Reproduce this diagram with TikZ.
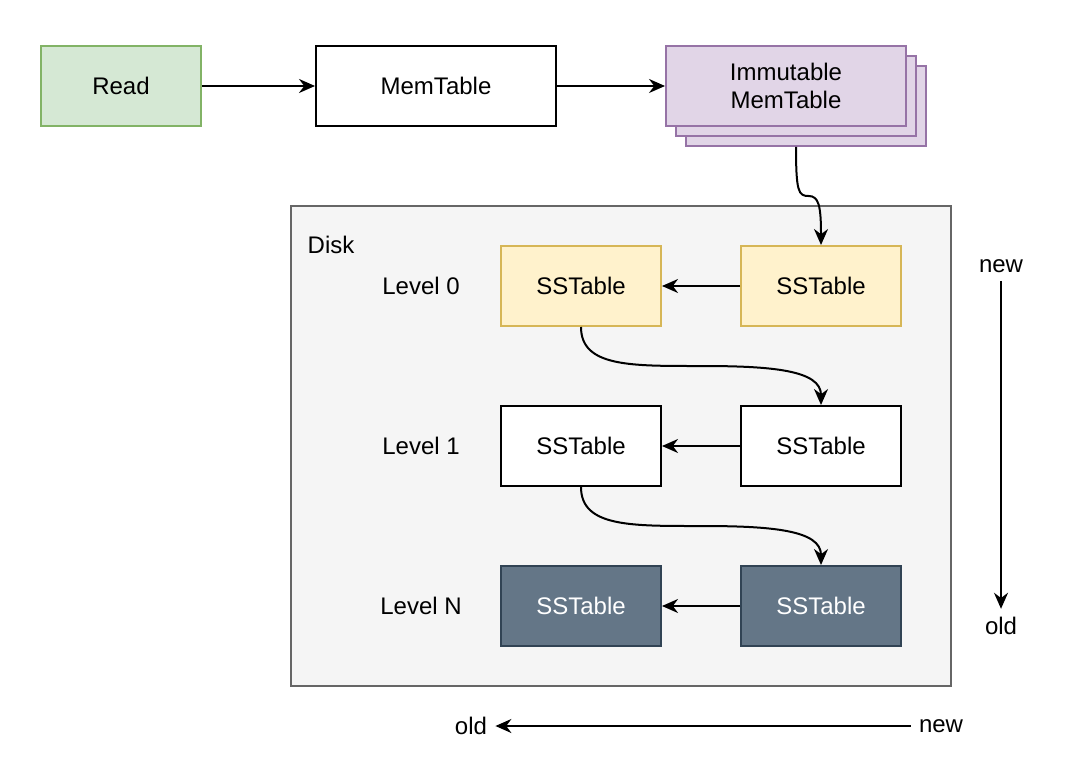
\documentclass[tikz,border=0pt]{standalone}
\usepackage{fontspec}
\setmainfont{Liberation Sans}
\usepackage{tikz}
\usetikzlibrary{arrows.meta,positioning,calc}
\definecolor{readGreen}{RGB}{213,232,212}
\definecolor{readGreenLine}{RGB}{130,179,102}
\definecolor{immPurple}{RGB}{225,213,231}
\definecolor{immPurpleLine}{RGB}{150,115,166}
\definecolor{diskGray}{RGB}{245,245,245}
\definecolor{diskGrayLine}{RGB}{102,102,102}
\definecolor{levelYellow}{RGB}{255,242,204}
\definecolor{levelYellowLine}{RGB}{214,182,86}
\definecolor{levelSlate}{RGB}{100,118,135}
\definecolor{levelSlateLine}{RGB}{49,67,84}

\tikzset{
  box/.style={draw, line width=1pt, minimum width=80pt, minimum height=40pt, inner sep=0pt, align=center},
  flow/.style={-{Stealth[length=8pt,width=7pt]}, line width=1pt},
  tag/.style={inner sep=4pt}
}

\begin{document}
\begin{tikzpicture}[x=0.5pt,y=-0.5pt,font=\fontsize{12}{14}\selectfont]
          \useasboundingbox (0,0) rectangle (1068,774);
          % Write path
          \node[box, fill=readGreen, draw=readGreenLine] (read) at (121,86) {Read};
          \node[box, minimum width=120pt, fill=white] (mem) at (436,86) {MemTable};
          \node[box, minimum width=120pt, fill=immPurple, draw=immPurpleLine] (imm3) at (806,106) {};
          \node[box, minimum width=120pt, fill=immPurple, draw=immPurpleLine] (imm2) at (796,96) {};
          \node[box, minimum width=120pt, fill=immPurple, draw=immPurpleLine] (imm) at (786,86) {Immutable\\MemTable};
          \draw[flow] (read) -- (mem);
          \draw[flow] (mem) -- (imm);
          % Disk
          \node[draw=diskGrayLine, fill=diskGray, line width=1pt, minimum width=330pt, minimum height=240pt] (disk) at (621,446) {};
          \node (disklbl) at (331,245) {Disk};
          % Levels
          \node (lv0) at (421,286) {Level 0};
          \node (lv1) at (421,446) {Level 1};
          \node (lvn) at (421,606) {Level N};
          \node[box, fill=levelYellow, draw=levelYellowLine] (l0) at (581,286) {SSTable};
          \node[box, fill=levelYellow, draw=levelYellowLine] (r0) at (821,286) {SSTable};
          \node[box, fill=white] (l1) at (581,446) {SSTable};
          \node[box, fill=white] (r1) at (821,446) {SSTable};
          \node[box, fill=levelSlate, draw=levelSlateLine, text=white] (ln) at (581,606) {SSTable};
          \node[box, fill=levelSlate, draw=levelSlateLine, text=white] (rn) at (821,606) {SSTable};
          \draw[flow] (r0) -- (l0);
          \draw[flow] (r1) -- (l1);
          \draw[flow] (rn) -- (ln);
          % Flush and compaction
          \draw[flow] (imm2.south |- imm3.south) .. controls +(0,45) and +(-10,0) .. ($(imm2.south |- imm3.south)!.5!(r0.north)$)
                .. controls +(10,0) and +(0,-40) .. (r0.north);
          \draw[flow] (l0.south) .. controls +(0,40) and +(-70,0) .. ($(l0.south)!.5!(r0.north |- r1.north)$)
                .. controls +(70,0) and +(0,-35) .. (r1.north);
          \draw[flow] (l1.south) .. controls +(0,40) and +(-70,0) .. ($(l1.south)!.5!(rn.north)$)
                .. controls +(70,0) and +(0,-35) .. (rn.north);
          % Age
          \node[tag] (vnew) at (1001,266) {new};
          \node[tag] (vold) at (1001,626) {old};
          \draw[flow] (vnew) -- (vold);
          \node[tag] (hnew) at (941,726) {new};
          \node[tag] (hold) at (471,726) {old};
          \draw[flow] (hnew) -- (hold);
        \end{tikzpicture}
\end{document}
